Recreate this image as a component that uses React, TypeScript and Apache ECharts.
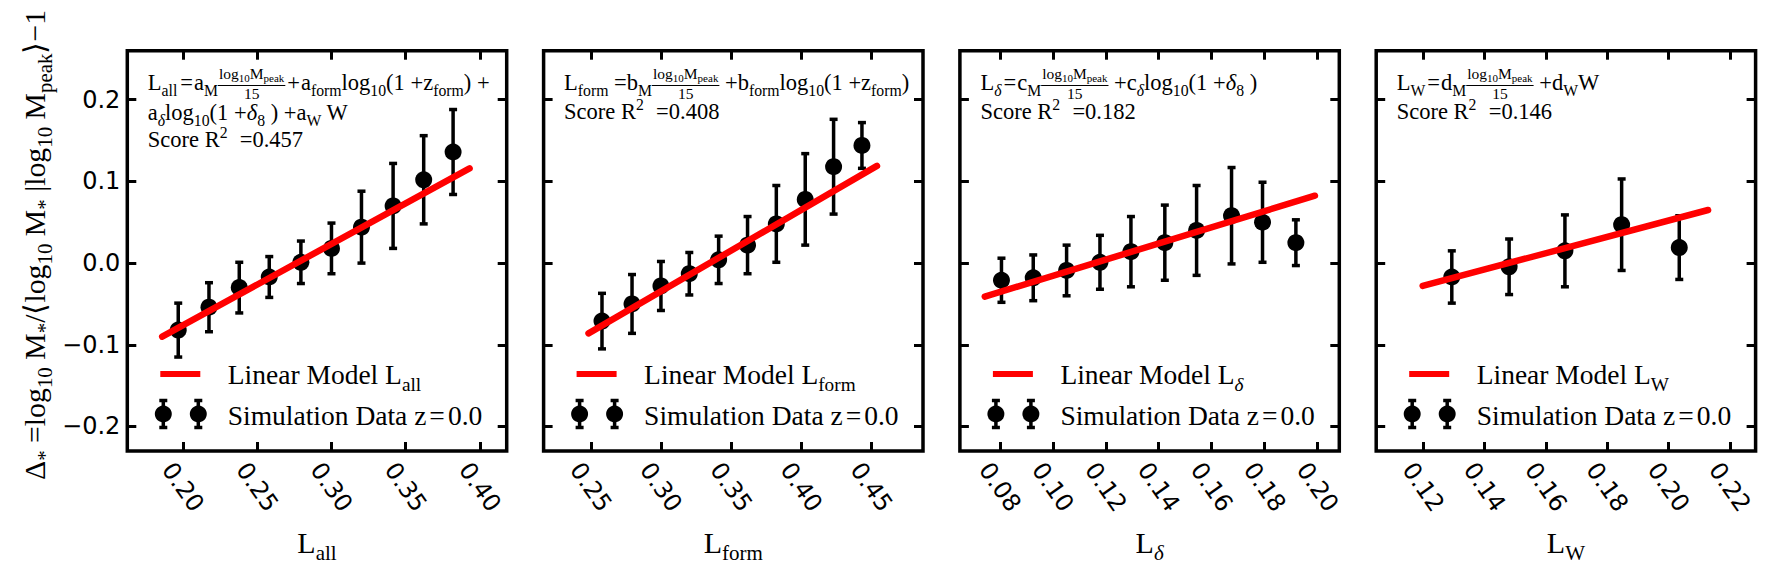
import React, { useEffect, useRef } from 'react';
import * as echarts from 'echarts';

// ---------------- data ----------------
const xTicks1 = [0.2, 0.25, 0.3, 0.35, 0.4];
const xTicks2 = [0.25, 0.3, 0.35, 0.4, 0.45];
const xTicks3 = [0.08, 0.1, 0.12, 0.14, 0.16, 0.18, 0.2];
const xTicks4 = [0.12, 0.14, 0.16, 0.18, 0.2, 0.22];
const yTicks = [-0.2, -0.1, 0.0, 0.1, 0.2];

const p1X = [0.1968, 0.2175, 0.2379, 0.2581, 0.2794, 0.3, 0.3202, 0.3415, 0.3621, 0.3819];
const p1Y = [-0.082, -0.054, -0.03, -0.017, 0.001, 0.018, 0.044, 0.07, 0.102, 0.136];
const p1Err = [0.033, 0.03, 0.031, 0.025, 0.026, 0.031, 0.044, 0.052, 0.054, 0.052];
const p1FitX = [0.186, 0.393];
const p1FitY = [-0.09, 0.116];

const p2X = [0.258, 0.2794, 0.3, 0.3202, 0.3411, 0.3617, 0.3822, 0.4028, 0.423, 0.4432];
const p2Y = [-0.071, -0.05, -0.028, -0.013, 0.004, 0.022, 0.048, 0.078, 0.118, 0.144];
const p2Err = [0.034, 0.036, 0.03, 0.026, 0.029, 0.035, 0.047, 0.056, 0.058, 0.028];
const p2FitX = [0.2484, 0.4539];
const p2FitY = [-0.086, 0.119];

const p3X = [0.0806, 0.0926, 0.1052, 0.1178, 0.1295, 0.1423, 0.1543, 0.1675, 0.1792, 0.1918];
const p3Y = [-0.021, -0.018, -0.009, 0.001, 0.014, 0.025, 0.04, 0.058, 0.05, 0.025];
const p3Err = [0.027, 0.028, 0.031, 0.033, 0.043, 0.046, 0.055, 0.059, 0.049, 0.028];
const p3FitX = [0.0743, 0.199];
const p3FitY = [-0.041, 0.0825];

const p4X = [0.1293, 0.148, 0.1662, 0.1847, 0.2035];
const p4Y = [-0.017, -0.0045, 0.015, 0.047, 0.019];
const p4Err = [0.032, 0.034, 0.044, 0.056, 0.039];
const p4FitX = [0.1198, 0.2129];
const p4FitY = [-0.028, 0.065];

const scores = ['0.457', '0.408', '0.182', '0.146'];
const coefLetters = ['a', 'b', 'c', 'd'];

// ---------------- layout constants ----------------
const PANEL_LEFT = [127.3, 543.6, 959.9, 1376.2];
const PANEL_W = 379.4;
const PANEL_TOP = 50.7;
const PANEL_H = 400.3;
const X_RANGE = [
  [0.1625, 0.418],
  [0.2164, 0.4867],
  [0.0649, 0.2082],
  [0.10464, 0.2284],
];
const Y_MIN = -0.23;
const Y_MAX = 0.26;

const SERIF = 'Liberation Serif';
const SANS = 'DejaVu Sans';

type Run = { t: string; s: number; dy?: number; dx?: number; it?: boolean };
type Frac = { frac: true; num: Run[]; den: Run[]; pad: number; barDy: number; numDy: number; denDy: number };
type Piece = Run | Frac;

let mctx: CanvasRenderingContext2D | null = null;
function tw(t: string, s: number, it?: boolean): number {
  if (!mctx) mctx = document.createElement('canvas').getContext('2d');
  mctx!.font = `${it ? 'italic ' : ''}${s}px "${SERIF}"`;
  return mctx!.measureText(t).width;
}
function textEl(t: string, x: number, baseY: number, s: number, it?: boolean) {
  return {
    type: 'text',
    x,
    y: baseY - 0.34 * s,
    silent: true,
    z: 100,
    style: {
      text: t,
      fontSize: s,
      fontFamily: SERIF,
      fontStyle: it ? 'italic' : 'normal',
      fill: '#000',
      align: 'left',
      verticalAlign: 'middle',
    },
  };
}
function piecesWidth(pieces: Piece[]): number {
  let w = 0;
  for (const p of pieces) {
    if ('frac' in p) {
      w += Math.max(piecesWidth(p.num), piecesWidth(p.den)) + 2 * p.pad;
    } else {
      w += (p.dx || 0) + tw(p.t, p.s, p.it);
    }
  }
  return w;
}
function layout(pieces: Piece[], x0: number, baseY: number, out: any[]): number {
  let x = x0;
  for (const p of pieces) {
    if ('frac' in p) {
      const wn = piecesWidth(p.num);
      const wd = piecesWidth(p.den);
      const w = Math.max(wn, wd) + 2 * p.pad;
      layout(p.num, x + (w - wn) / 2, baseY + p.numDy, out);
      layout(p.den, x + (w - wd) / 2, baseY + p.denDy, out);
      out.push({
        type: 'line',
        silent: true,
        z: 100,
        shape: { x1: x, y1: baseY + p.barDy, x2: x + w, y2: baseY + p.barDy },
        style: { stroke: '#000', lineWidth: 1 },
      });
      x += w;
    } else {
      x += p.dx || 0;
      out.push(textEl(p.t, x, baseY + (p.dy || 0), p.s, p.it));
      x += tw(p.t, p.s, p.it);
    }
  }
  return x;
}

function maker(S: number) {
  const m = (t: string, extra: Partial<Run> = {}): Run => ({ t, s: S, ...extra });
  const sb = (t: string, it = false, dx = 0): Run => ({ t, s: S * 0.7, dy: S * 0.24, it, dx });
  const sp = (t: string): Run => ({ t, s: S * 0.7, dy: -S * 0.42 });
  return { m, sb, sp };
}

function fracPiece(): Frac {
  const s = 15.5;
  const ss = 11;
  return {
    frac: true,
    num: [
      { t: 'log', s },
      { t: '10', s: ss, dy: 3 },
      { t: 'M', s },
      { t: 'peak', s: ss, dy: 3 },
    ],
    den: [{ t: '15', s }],
    pad: 1,
    barDy: -4.5,
    numDy: -11,
    denDy: 8.5,
  };
}

function annotationLines(i: number): Piece[][] {
  const { m, sb, sp } = maker(22.5);
  const c = coefLetters[i];
  const score = [m('Score R'), sp('2'), m('  =' + scores[i], { dx: 1 })];
  if (i === 0) {
    return [
      [m('L'), sb('all'), m('=', { dx: 3 }), m('a', { dx: 1 }), sb('M'), fracPiece(), m('+', { dx: 2 }), m('a', { dx: 1 }), sb('form'), m('log'), sb('10'), m('(1 +z'), sb('form'), m(') +')],
      [m('a'), sb('δ', true), m('log'), sb('10'), m('(1 +'), m('δ', { it: true }), sb('8'), m(' ) +a'), sb('W'), m(' W')],
      score,
    ];
  }
  if (i === 1) {
    return [
      [m('L'), sb('form'), m(' =' + c), sb('M'), fracPiece(), m(' +' + c), sb('form'), m('log'), sb('10'), m('(1 +z'), sb('form'), m(')')],
      score,
    ];
  }
  if (i === 2) {
    return [
      [m('L'), sb('δ', true), m('=', { dx: 2 }), m(c, { dx: 1 }), sb('M'), fracPiece(), m(' +' + c), sb('δ', true), m('log'), sb('10'), m('(1 +'), m('δ', { it: true }), sb('8'), m(' )')],
      score,
    ];
  }
  return [
    [m('L'), sb('W'), m('=', { dx: 2 }), m(c, { dx: 1 }), sb('M'), fracPiece(), m(' +' + c), sb('W'), m('W')],
    score,
  ];
}

const subNames: [string, boolean][] = [
  ['all', false],
  ['form', false],
  ['δ', true],
  ['W', false],
];

function buildGraphics(): any[] {
  const out: any[] = [];
  for (let i = 0; i < 4; i++) {
    const x0 = PANEL_LEFT[i];
    // annotation
    const lines = annotationLines(i);
    const bases = i === 0 ? [90, 120, 147] : [90, 119.5];
    lines.forEach((ln, k) => layout(ln, x0 + 20.5, bases[k], out));

    // legend
    const L = maker(27.5);
    out.push({
      type: 'line',
      silent: true,
      z: 100,
      shape: { x1: x0 + 33, y1: 374, x2: x0 + 73, y2: 374 },
      style: { stroke: '#ff0000', lineWidth: 6 },
    });
    layout([L.m('Linear Model L'), L.sb(subNames[i][0], subNames[i][1])], x0 + 100.5, 384.3, out);
    for (const mx of [36, 71]) {
      const cx = x0 + mx;
      out.push({ type: 'line', silent: true, z: 100, shape: { x1: cx, y1: 400.5, x2: cx, y2: 427.5 }, style: { stroke: '#000', lineWidth: 3.5 } });
      out.push({ type: 'line', silent: true, z: 100, shape: { x1: cx - 4, y1: 400.5, x2: cx + 4, y2: 400.5 }, style: { stroke: '#000', lineWidth: 3.5 } });
      out.push({ type: 'line', silent: true, z: 100, shape: { x1: cx - 4, y1: 427.5, x2: cx + 4, y2: 427.5 }, style: { stroke: '#000', lineWidth: 3.5 } });
      out.push({ type: 'circle', silent: true, z: 100, shape: { cx, cy: 414, r: 8.5 }, style: { fill: '#000' } });
    }
    layout([L.m('Simulation Data z'), L.m('=', { dx: 3 }), L.m('0.0', { dx: 3 })], x0 + 100.5, 425, out);

    // x axis name
    const X = maker(30);
    const nm: Piece[] = [X.m('L'), X.sb(subNames[i][0], subNames[i][1])];
    const w = piecesWidth(nm);
    layout(nm, x0 + PANEL_W / 2 - w / 2, 553, out);
  }

  // y-axis label (rotated)
  const base = 30;
  const mk = (S: number): Piece[] => {
    const { m, sb } = maker(S);
    return [
      m('Δ'), sb('*'), m(' =log'), sb('10'), m(' M'), sb('*'), m('/⟨log'), sb('10'), m(' M'), sb('*'),
      m(' |log'), sb('10'), m(' M'), sb('peak'), m('⟩−1'),
    ];
  };
  const w30 = piecesWidth(mk(base));
  const S = base * (470 / w30);
  const children: any[] = [];
  layout(mk(S), 0, 0, children);
  out.push({ type: 'group', x: 45, y: 480, rotation: Math.PI / 2, silent: true, children });
  return out;
}

function pts(xs: number[], ys: number[]) {
  return xs.map((x, k) => [x, ys[k]]);
}

const panels = [
  { x: p1X, y: p1Y, e: p1Err, fx: p1FitX, fy: p1FitY, ticks: xTicks1 },
  { x: p2X, y: p2Y, e: p2Err, fx: p2FitX, fy: p2FitY, ticks: xTicks2 },
  { x: p3X, y: p3Y, e: p3Err, fx: p3FitX, fy: p3FitY, ticks: xTicks3 },
  { x: p4X, y: p4Y, e: p4Err, fx: p4FitX, fy: p4FitY, ticks: xTicks4 },
];

function buildOption(): any {
  const grid: any[] = [];
  const xAxis: any[] = [];
  const yAxis: any[] = [];
  const series: any[] = [];
  const tickStyle = { show: true, inside: true, length: 9, lineStyle: { color: '#000', width: 3 } };
  const noLine = { show: false, onZero: false };

  panels.forEach((p, i) => {
    grid.push({
      left: PANEL_LEFT[i],
      top: PANEL_TOP,
      width: PANEL_W,
      height: PANEL_H,
      show: true,
      borderColor: '#000',
      borderWidth: 3.5,
      backgroundColor: 'transparent',
      containLabel: false,
    });
    const [mn, mx] = X_RANGE[i];
    xAxis.push({
      type: 'value',
      gridIndex: i,
      position: 'bottom',
      min: mn,
      max: mx,
      axisLine: noLine,
      splitLine: { show: false },
      axisTick: { ...tickStyle, customValues: p.ticks },
      axisLabel: {
        customValues: p.ticks,
        formatter: (v: number) => v.toFixed(2),
        rotate: -55,
        align: 'center',
        verticalAlign: 'middle',
        margin: 36,
        fontSize: 24,
        fontFamily: SANS,
        color: '#000',
      },
    });
    xAxis.push({
      type: 'value',
      gridIndex: i,
      position: 'top',
      min: mn,
      max: mx,
      axisLine: noLine,
      splitLine: { show: false },
      axisTick: { ...tickStyle, customValues: p.ticks },
      axisLabel: { show: false },
    });
    yAxis.push({
      type: 'value',
      gridIndex: i,
      position: 'left',
      min: Y_MIN,
      max: Y_MAX,
      axisLine: noLine,
      splitLine: { show: false },
      axisTick: { ...tickStyle, customValues: yTicks },
      axisLabel: {
        show: i === 0,
        customValues: yTicks,
        formatter: (v: number) => (v < -1e-9 ? '−' : '') + Math.abs(v).toFixed(1),
        margin: 7,
        fontSize: 24,
        fontFamily: SANS,
        color: '#000',
      },
    });
    yAxis.push({
      type: 'value',
      gridIndex: i,
      position: 'right',
      min: Y_MIN,
      max: Y_MAX,
      axisLine: noLine,
      splitLine: { show: false },
      axisTick: { ...tickStyle, customValues: yTicks },
      axisLabel: { show: false },
    });

    const xi = i * 2;
    const yi = i * 2;
    series.push({
      type: 'custom',
      xAxisIndex: xi,
      yAxisIndex: yi,
      z: 2,
      encode: { x: 0, y: 1 },
      data: p.x.map((x, k) => [x, p.y[k], p.e[k]]),
      renderItem: (params: any, api: any) => {
        const x = api.value(0);
        const y = api.value(1);
        const e = api.value(2);
        const top = api.coord([x, y + e]);
        const bot = api.coord([x, y - e]);
        const cw = 4;
        const st = { stroke: '#000', lineWidth: 3.5 };
        return {
          type: 'group',
          children: [
            { type: 'line', shape: { x1: top[0], y1: top[1], x2: bot[0], y2: bot[1] }, style: st },
            { type: 'line', shape: { x1: top[0] - cw, y1: top[1], x2: top[0] + cw, y2: top[1] }, style: st },
            { type: 'line', shape: { x1: bot[0] - cw, y1: bot[1], x2: bot[0] + cw, y2: bot[1] }, style: st },
          ],
        };
      },
    });
    series.push({
      type: 'scatter',
      xAxisIndex: xi,
      yAxisIndex: yi,
      z: 3,
      symbol: 'circle',
      symbolSize: 17,
      itemStyle: { color: '#000', opacity: 1 },
      data: pts(p.x, p.y),
    });
    series.push({
      type: 'line',
      xAxisIndex: xi,
      yAxisIndex: yi,
      z: 4,
      showSymbol: false,
      symbol: 'none',
      lineStyle: { color: '#ff0000', width: 6.5, cap: 'round' },
      data: pts(p.fx, p.fy),
    });
  });

  return {
    animation: false,
    backgroundColor: '#ffffff',
    grid,
    xAxis,
    yAxis,
    series,
    graphic: { elements: buildGraphics() },
  };
}

export default function App() {
  const ref = useRef<HTMLDivElement>(null);
  useEffect(() => {
    document.body.style.margin = '0';
    if (!ref.current) return;
    const chart = echarts.init(ref.current, null, { renderer: 'svg' });
    chart.setOption(buildOption());
    return () => {
      chart.dispose();
    };
  }, []);
  return <div ref={ref} style={{ width: 1766, height: 569 }} />;
}
